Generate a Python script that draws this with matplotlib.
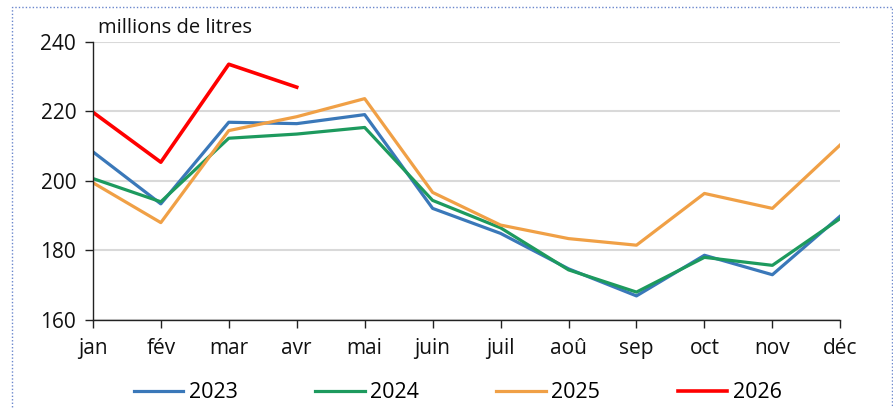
import matplotlib.pyplot as plt
from matplotlib.patches import Rectangle

plt.rcParams['font.family'] = ['Open Sans', 'DejaVu Sans']

months = ["jan", "fév", "mar", "avr", "mai", "juin", "juil", "aoû", "sep", "oct", "nov", "déc"]

v2023 = [208.4, 193.4, 216.9, 216.5, 219.1, 192.1, 184.9, 174.7, 166.9, 178.6, 173.0, 189.9]
v2024 = [200.7, 194.0, 212.3, 213.5, 215.4, 194.4, 186.5, 174.4, 168.0, 178.0, 175.7, 189.2]
v2025 = [199.5, 188.0, 214.5, 218.5, 223.7, 196.7, 187.3, 183.4, 181.5, 196.4, 192.1, 210.4]
v2026 = [219.8, 205.4, 233.6, 227.0]

fig = plt.figure(figsize=(8.93, 4.08), dpi=100)
ax = fig.add_axes([0.104, 0.216, 0.837, 0.681])

x = list(range(len(months)))
ax.plot(x, v2023, color="#3a78b9", lw=2.3, label="2023")
ax.plot(x, v2024, color="#1d9a5e", lw=2.3, label="2024")
ax.plot(x, v2025, color="#f0a046", lw=2.3, label="2025")
ax.plot(x[:len(v2026)], v2026, color="#ff0000", lw=2.6, label="2026")

ax.set_xlim(0, 11)
ax.set_ylim(160, 240)
ax.set_yticks([160, 180, 200, 220, 240])
ax.set_xticks(x)
ax.set_xticklabels(months)
ax.grid(axis="y", color="#d9d9d9", lw=1.5)
ax.set_axisbelow(True)
for s in ["top", "right"]:
    ax.spines[s].set_visible(False)
for s in ["left", "bottom"]:
    ax.spines[s].set_color("#222222")
    ax.spines[s].set_linewidth(1.0)
ax.tick_params(axis="both", labelsize=15, length=6, width=1.0, color="#222222", labelcolor="#111111")
ax.tick_params(axis="x", pad=7)
ax.tick_params(axis="y", pad=6)

ax.text(0.007, 1.032, "millions de litres", transform=ax.transAxes, fontsize=14.5,
        color="#111111", va="baseline", ha="left")

ax.legend(loc="center", bbox_to_anchor=(0.488, -0.263), ncol=4, frameon=False,
          fontsize=15.5, handlelength=2.3, handletextpad=0.25, columnspacing=3.6)

fig.patches.append(Rectangle((12 / 893, -0.05), 880 / 893, 1 - 7 / 408 + 0.05,
                             transform=fig.transFigure, fill=False, edgecolor="#6a86cc",
                             linestyle=(0, (1, 1.5)), lw=1.0))

plt.savefig("out.png", dpi=100)
